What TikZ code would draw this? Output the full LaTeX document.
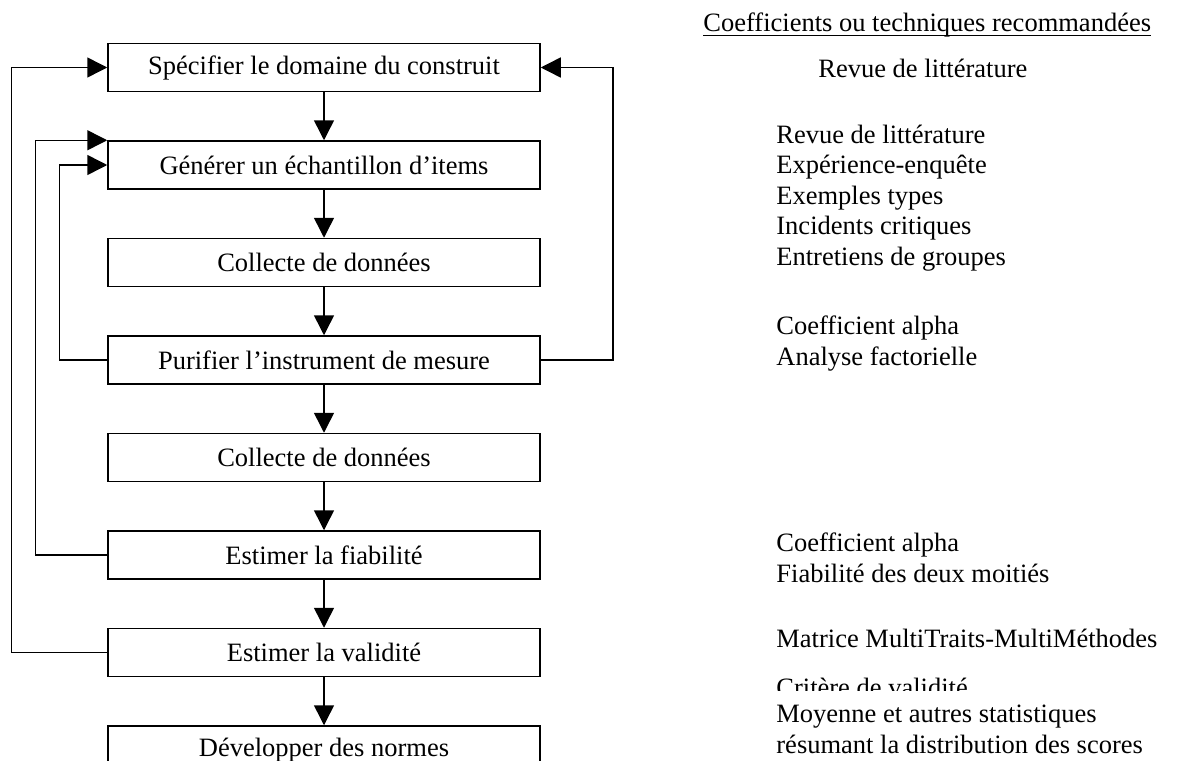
\documentclass[tikz,border=0pt]{standalone}
\usepackage{fontspec}
\setmainfont{Liberation Serif}
\usetikzlibrary{arrows.meta,positioning}

\tikzset{
  etape/.style={draw, line width=0.75pt, minimum width=216pt, minimum height=24pt, inner sep=0pt, font=\fontsize{13.25}{15.25}\selectfont},
  fleche/.style={-{Triangle[length=10pt,width=10pt]}, line width=0.75pt},
  liste/.style={anchor=base west, inner sep=0pt, align=left, font=\fontsize{13.25}{15.25}\selectfont}
}

\begin{document}
\begin{tikzpicture}[x=0.5pt,y=-0.5pt]
    \useasboundingbox (0,0) rectangle (1177,760);

    % les etapes
    \node[etape] (b1) at (324,67.5) {Spécifier le domaine du construit};
    \node[etape, below=24pt of b1] (b2) {Générer un échantillon d’items};
    \node[etape, below=24pt of b2] (b3) {Collecte de données};
    \node[etape, below=24pt of b3] (b4) {Purifier l’instrument de mesure};
    \node[etape, below=24pt of b4] (b5) {Collecte de données};
    \node[etape, below=24pt of b5] (b6) {Estimer la fiabilité};
    \node[etape, below=24pt of b6] (b7) {Estimer la validité};
    \node[etape, below=24pt of b7] (b8) {Développer des normes};

    \draw[fleche] (b1) -- (b2);
    \draw[fleche] (b2) -- (b3);
    \draw[fleche] (b3) -- (b4);
    \draw[fleche] (b4) -- (b5);
    \draw[fleche] (b5) -- (b6);
    \draw[fleche] (b6) -- (b7);
    \draw[fleche] (b7) -- (b8);

    % retours
    \draw[fleche] (b7.west) -- ++(-96,0) |- (b1.west);
    \draw[fleche] (b6.west) -- ++(-72,0) |- (b2.north west);
    \draw[fleche] (b4.west) -- ++(-48,0) |- (b2.west);
    \draw[fleche] (b4.east) -- ++(72,0) |- (b1.east);

    % colonne de droite (base = derniere ligne)
    \node[liste] (titre) at (703,32) {Coefficients ou techniques recommandées};
    \draw[line width=0.5pt] ([yshift=-1.85pt]titre.base west) -- ([yshift=-1.85pt]titre.base east);
    \node[liste] (r1) at (818,77.7) {Revue de littérature};
    \node[liste] (r2) at (776,265) {Revue de littérature\\Expérience-enquête\\Exemples types\\Incidents critiques\\Entretiens de groupes};
    \node[liste] (r4) at (776,365) {Coefficient alpha\\Analyse factorielle};
    \node[liste] (r6) at (776,582) {Coefficient alpha\\Fiabilité des deux moitiés};
    \node[liste] (r7) at (776,647.7) {Matrice MultiTraits-MultiMéthodes};
    \begin{scope}
      \clip (700,600) rectangle (1177,690);
      \node[liste] (r7b) at (776,696) {Critère de validité};
    \end{scope}
    \node[liste] (r8) at (776,753.3) {Moyenne et autres statistiques\\résumant la distribution des scores};
\end{tikzpicture}
\end{document}
